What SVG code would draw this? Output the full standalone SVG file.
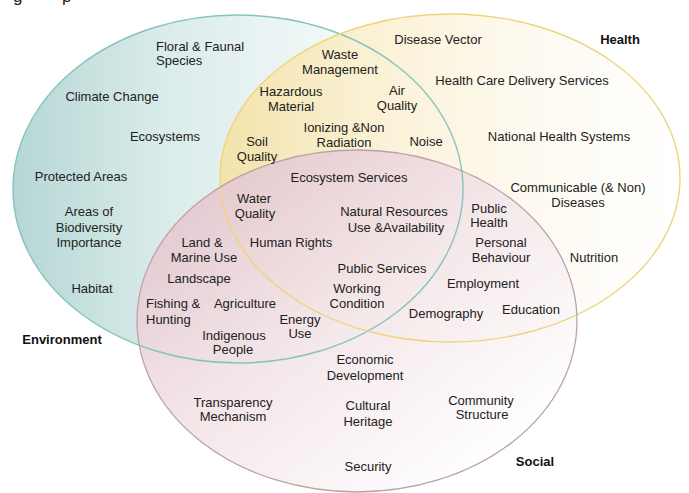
<svg xmlns="http://www.w3.org/2000/svg" width="689" height="493" viewBox="0 0 689 493">
<defs>
<linearGradient id="gEnv" x1="0" y1="0" x2="1" y2="0">
<stop offset="0" stop-color="#b0d4d1"/>
<stop offset="0.35" stop-color="#d9ebea"/>
<stop offset="0.7" stop-color="#f1f7f7"/>
<stop offset="1" stop-color="#ffffff"/>
</linearGradient>
<linearGradient id="gHea" x1="0" y1="0" x2="1" y2="0">
<stop offset="0" stop-color="#f4e2a6"/>
<stop offset="0.3" stop-color="#faefcf"/>
<stop offset="0.65" stop-color="#fdf9ee"/>
<stop offset="1" stop-color="#ffffff"/>
</linearGradient>
<linearGradient id="gSoc" x1="0.1" y1="0.15" x2="0.85" y2="0.9">
<stop offset="0" stop-color="#e4c8cf"/>
<stop offset="0.45" stop-color="#f3e5e8"/>
<stop offset="1" stop-color="#ffffff"/>
</linearGradient>
</defs>
<style>
text{font-family:"Liberation Sans",Arial,sans-serif;font-size:13px;fill:#222;text-anchor:middle}
.l{text-anchor:start}
.b{font-weight:bold;fill:#111}
.fill{stroke:none;opacity:0.94}
.edge{fill:none}
</style>
<rect width="689" height="493" fill="#ffffff"/>
<text class="l" x="13" y="2" style="font-size:17px">g</text>
<text class="l" x="62" y="2" style="font-size:17px">p</text>
<g id="fills">
<ellipse class="fill" cx="238" cy="189" rx="225" ry="174" fill="url(#gEnv)"/>
<ellipse class="fill" cx="450" cy="178" rx="230" ry="164" fill="url(#gHea)"/>
<ellipse class="fill" cx="357" cy="321" rx="220" ry="171" fill="url(#gSoc)"/>
</g>
<g id="environment">
<ellipse class="edge" cx="238" cy="189" rx="225" ry="174" stroke="#86c3be" stroke-width="1.4"/>
<text class="b" x="62" y="344">Environment</text>
<text class="l" x="156" y="51">Floral &amp; Faunal</text>
<text class="l" x="156" y="65">Species</text>
<text x="112" y="101">Climate Change</text>
<text x="165" y="141">Ecosystems</text>
<text x="81" y="181">Protected Areas</text>
<text x="89" y="216">Areas of</text>
<text x="89" y="232">Biodiversity</text>
<text x="89" y="247">Importance</text>
<text x="92" y="293">Habitat</text>
</g>
<g id="health">
<ellipse class="edge" cx="450" cy="178" rx="230" ry="164" stroke="#efd47e" stroke-width="1.4"/>
<text class="b" x="620" y="44">Health</text>
<text x="438" y="44">Disease Vector</text>
<text x="522" y="85">Health Care Delivery Services</text>
<text x="559" y="141">National Health Systems</text>
<text x="578" y="192">Communicable (&amp; Non)</text>
<text x="578" y="207">Diseases</text>
<text x="594" y="262">Nutrition</text>
</g>
<g id="social">
<ellipse class="edge" cx="357" cy="321" rx="220" ry="171" stroke="#bba2a9" stroke-width="1.3"/>
<text class="b" x="535" y="466">Social</text>
<text x="365" y="364">Economic</text>
<text x="365" y="380">Development</text>
<text x="233" y="407">Transparency</text>
<text x="233" y="421">Mechanism</text>
<text x="368" y="410">Cultural</text>
<text x="368" y="426">Heritage</text>
<text x="481" y="405">Community</text>
<text x="482" y="419">Structure</text>
<text x="368" y="471">Security</text>
</g>
<g id="env-health">
<text x="340" y="59">Waste</text>
<text x="340" y="74">Management</text>
<text x="291" y="96">Hazardous</text>
<text x="291" y="111">Material</text>
<text x="397" y="95">Air</text>
<text x="397" y="110">Quality</text>
<text x="344" y="132">Ionizing &amp;Non</text>
<text x="344" y="147">Radiation</text>
<text x="257" y="146">Soil</text>
<text x="257" y="161">Quality</text>
<text x="426" y="146">Noise</text>
</g>
<g id="env-social">
<text x="202" y="247">Land &amp;</text>
<text x="204" y="262">Marine Use</text>
<text x="199" y="283">Landscape</text>
<text class="l" x="146" y="308">Fishing &amp;</text>
<text class="l" x="146" y="324">Hunting</text>
<text x="245" y="308">Agriculture</text>
<text x="300" y="324">Energy</text>
<text x="300" y="338">Use</text>
<text x="234" y="340">Indigenous</text>
<text x="233" y="354">People</text>
</g>
<g id="health-social">
<text x="489" y="213">Public</text>
<text x="489" y="227">Health</text>
<text x="501" y="247">Personal</text>
<text x="501" y="262">Behaviour</text>
<text x="483" y="288">Employment</text>
<text x="446" y="318">Demography</text>
<text x="531" y="314">Education</text>
</g>
<g id="all-three">
<text x="349" y="182">Ecosystem Services</text>
<text x="254" y="203">Water</text>
<text x="255" y="218">Quality</text>
<text x="291" y="247">Human Rights</text>
<text x="394" y="216">Natural Resources</text>
<text x="396" y="232">Use &amp;Availability</text>
<text x="382" y="273">Public Services</text>
<text x="357" y="293">Working</text>
<text x="357" y="308">Condition</text>
</g>
</svg>
